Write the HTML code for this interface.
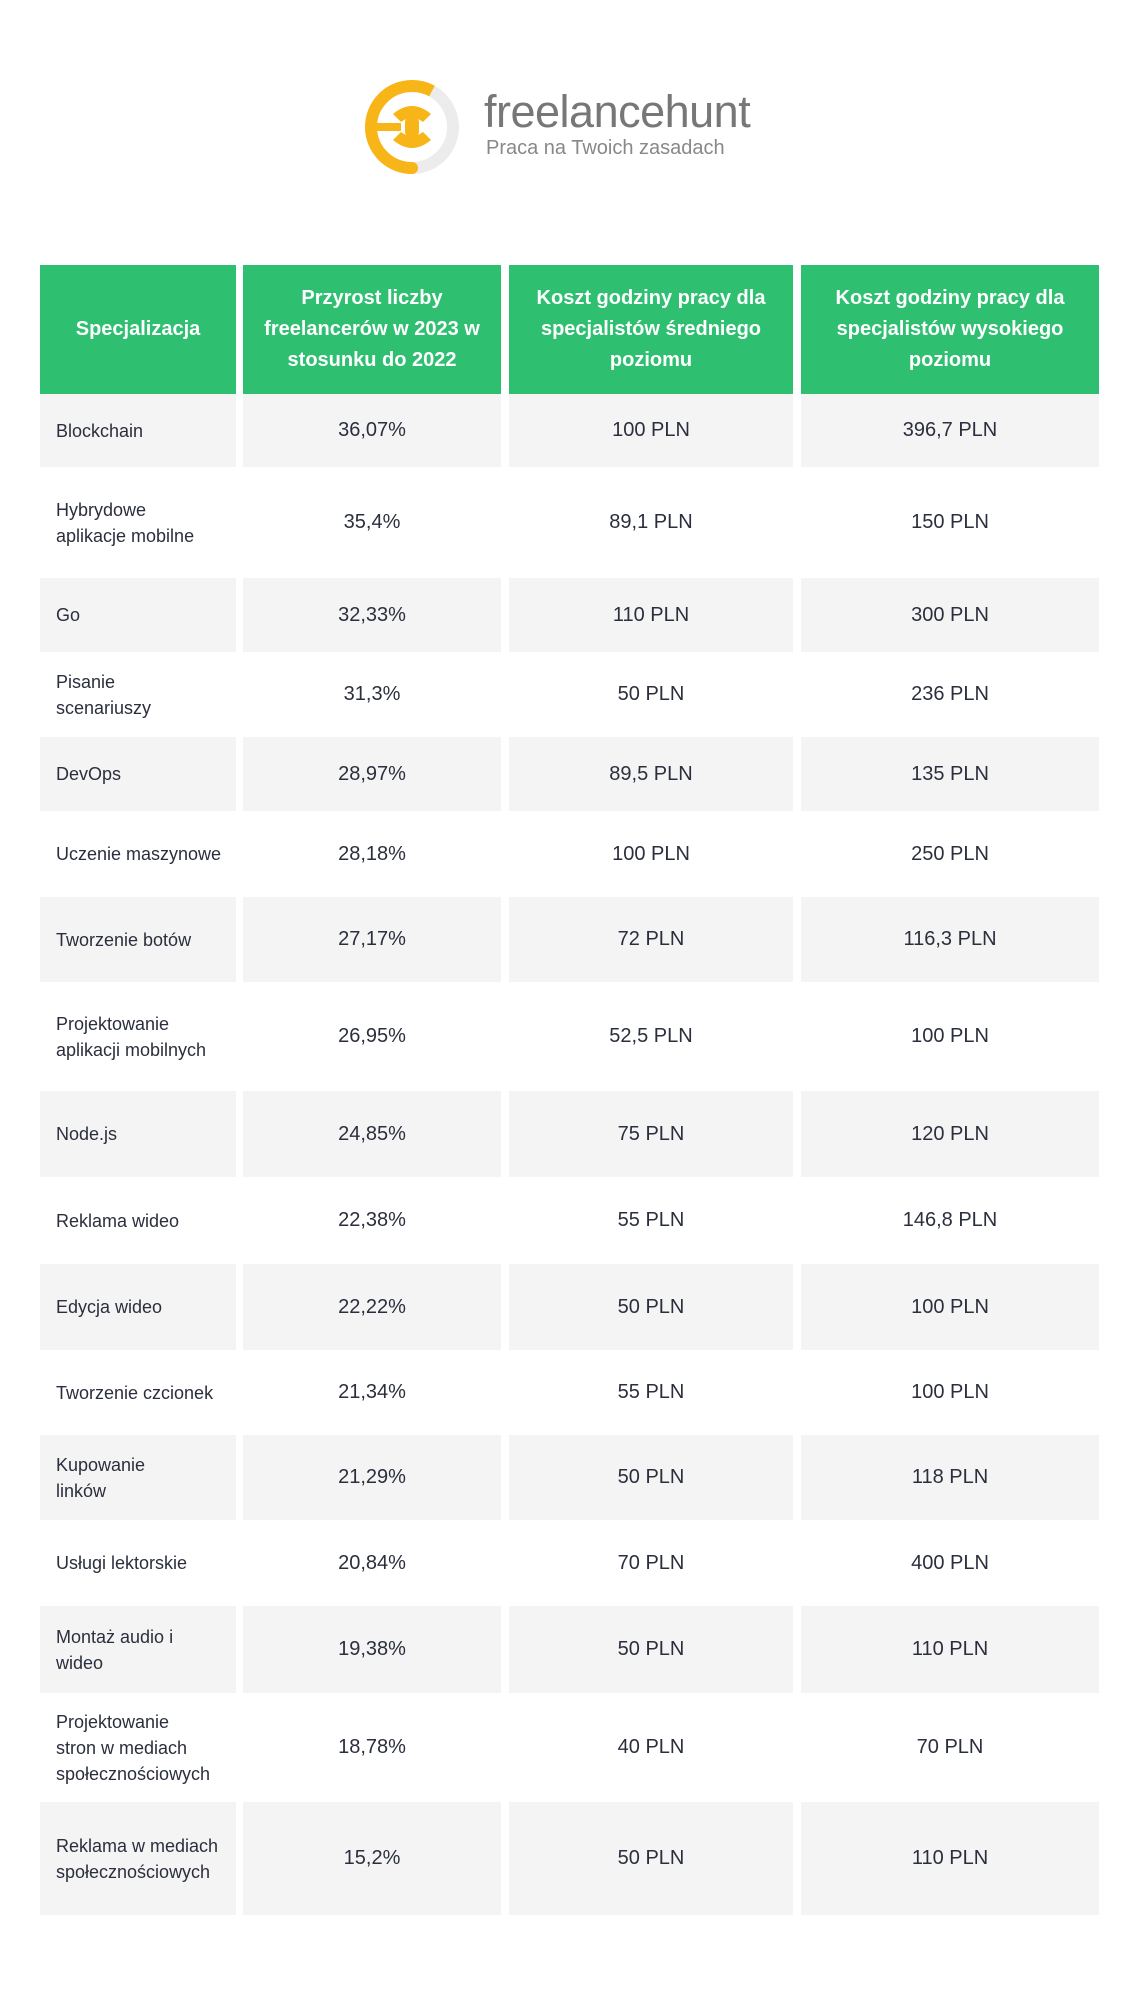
<!DOCTYPE html>
<html><head><meta charset="utf-8"><style>
body{margin:0;width:1139px;height:2000px;background:#fff;position:relative;overflow:hidden;font-family:"Liberation Sans",sans-serif;color:#2b2f3d}
.c{position:absolute;display:flex;align-items:center;box-sizing:border-box}
.h{background:#2fbf71;color:#fff;font-weight:bold;font-size:20px;line-height:31px;justify-content:center;text-align:center;padding:0 6px}
.g{background:#f4f4f4}
.l{font-size:18px;line-height:26px;padding-left:16px}
.v{font-size:20px;justify-content:center}
</style></head><body>
<svg style="position:absolute;left:355px;top:70px" width="115" height="115" viewBox="0 0 115 115">
<circle cx="57" cy="57" r="41" fill="none" stroke="#ececec" stroke-width="12"/>
<path d="M57 16 A41 41 0 1 0 57 98" fill="none" stroke="#f8b517" stroke-width="12" stroke-linecap="round"/>
<path d="M57 16 A41 41 0 0 1 77 21" fill="none" stroke="#f8b517" stroke-width="12"/>
<path d="M38 44 Q57 28 76 44 L68 52 Q57 44 46 52 Z" fill="#f8b517"/>
<path d="M38 70 Q57 86 76 70 L68 62 Q57 70 46 62 Z" fill="#f8b517"/>
<rect x="50" y="48" width="14" height="18" rx="4" fill="#f8b517"/>
<rect x="18" y="53" width="28" height="8" fill="#f8b517"/>
</svg>
<div style="position:absolute;left:484px;top:86px;font-size:45px;color:#777;letter-spacing:-0.5px">freelancehunt</div>
<div style="position:absolute;left:486px;top:137px;font-size:20px;color:#888">Praca na Twoich zasadach</div>

<div class="c h" style="left:40px;top:265px;width:196px;height:129px">Specjalizacja</div>
<div class="c h" style="left:243px;top:265px;width:258px;height:129px">Przyrost liczby freelancerów w 2023 w stosunku do 2022</div>
<div class="c h" style="left:509px;top:265px;width:284px;height:129px">Koszt godziny pracy dla specjalistów średniego poziomu</div>
<div class="c h" style="left:801px;top:265px;width:298px;height:129px">Koszt godziny pracy dla specjalistów wysokiego poziomu</div>

<div id="rows"></div>
<script>
var b=[394,467,578,652,737,811,897,982,1091,1177,1264,1350,1435,1520,1606,1693,1802,1915];
var d=[["Blockchain","36,07%","100 PLN","396,7 PLN"],["Hybrydowe<br>aplikacje mobilne","35,4%","89,1 PLN","150 PLN"],["Go","32,33%","110 PLN","300 PLN"],["Pisanie<br>scenariuszy","31,3%","50 PLN","236 PLN"],["DevOps","28,97%","89,5 PLN","135 PLN"],["Uczenie maszynowe","28,18%","100 PLN","250 PLN"],["Tworzenie botów","27,17%","72 PLN","116,3 PLN"],["Projektowanie<br>aplikacji mobilnych","26,95%","52,5 PLN","100 PLN"],["Node.js","24,85%","75 PLN","120 PLN"],["Reklama wideo","22,38%","55 PLN","146,8 PLN"],["Edycja wideo","22,22%","50 PLN","100 PLN"],["Tworzenie czcionek","21,34%","55 PLN","100 PLN"],["Kupowanie<br>linków","21,29%","50 PLN","118 PLN"],["Usługi lektorskie","20,84%","70 PLN","400 PLN"],["Montaż audio i<br>wideo","19,38%","50 PLN","110 PLN"],["Projektowanie<br>stron w mediach<br>społecznościowych","18,78%","40 PLN","70 PLN"],["Reklama w mediach<br>społecznościowych","15,2%","50 PLN","110 PLN"]];
var cols=[[40,196],[243,258],[509,284],[801,298]];
var h="";
for(var i=0;i<d.length;i++){var t=b[i],hh=b[i+1]-b[i],g=i%2==0?" g":"";
for(var j=0;j<4;j++){h+='<div class="c '+(j==0?'l':'v')+g+'" style="left:'+cols[j][0]+'px;top:'+t+'px;width:'+cols[j][1]+'px;height:'+hh+'px">'+d[i][j]+'</div>';}}
document.getElementById("rows").innerHTML=h;
</script>
</body></html>
